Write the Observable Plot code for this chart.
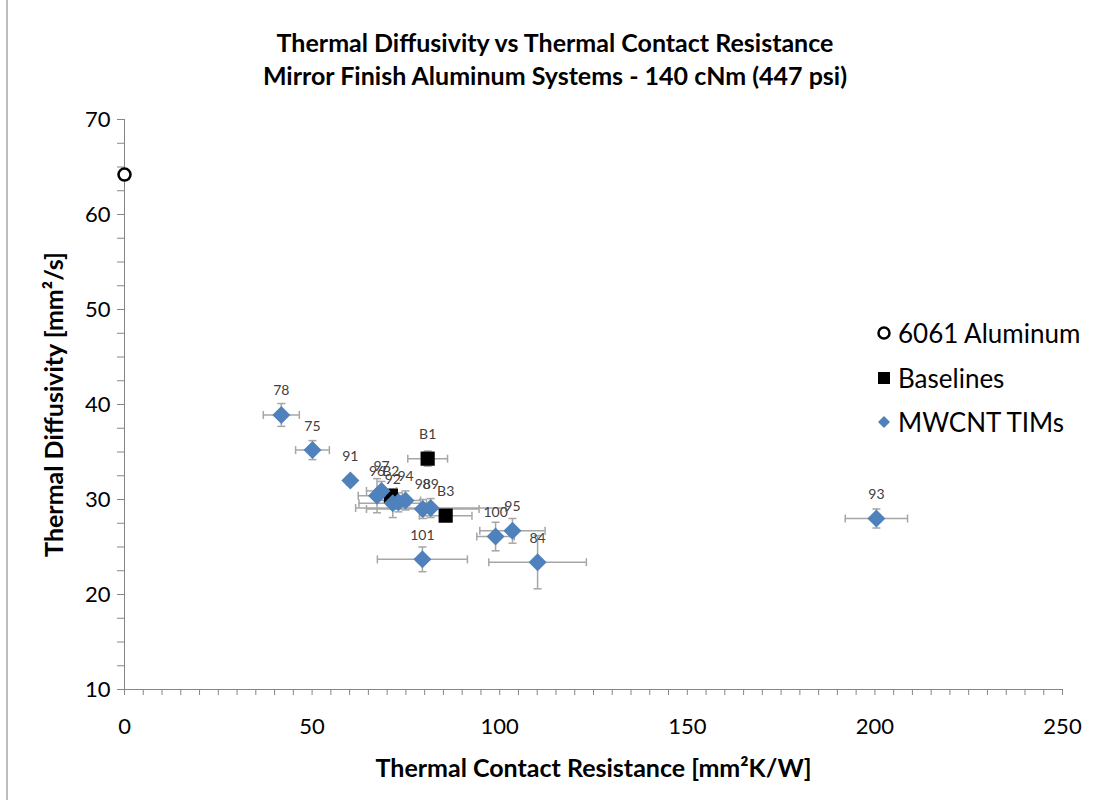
<!DOCTYPE html>
<html>
<head>
<meta charset="utf-8">
<script src="https://cdn.jsdelivr.net/npm/d3@7"></script>
<script src="https://cdn.jsdelivr.net/npm/@observablehq/plot@0.6"></script>
<style>
  html, body { margin: 0; padding: 0; background: #fff; }
  #wrap { position: relative; width: 1097px; height: 800px; overflow: hidden; font-family: Lato, "Open Sans", sans-serif; }
  #frame { position: absolute; left: 6px; top: -2px; width: 1200px; height: 1000px; border-left: 2px solid #bdbdbd; }
  .title { position: absolute; left: 0; width: 1110px; text-align: center; font-weight: bold; font-size: 25px; line-height: 32px; color: #000; }
  .legend { position: absolute; left: 876px; font-size: 26px; line-height: 30px; color: #000; display: flex; align-items: center; }
  .legend svg { margin-right: 6px; }
</style>
</head>
<body>
<div id="wrap">
  <div id="frame"></div>
  <div id="chart"></div>
  <div class="title" style="top:26px">Thermal Diffusivity vs Thermal Contact Resistance</div>
  <div class="title" style="top:59px">Mirror Finish Aluminum Systems - 140 cNm (447 psi)</div>
  <div class="legend" style="top:318px"><svg width="16" height="16"><circle cx="8" cy="8" r="5.5" fill="#fff" stroke="#000" stroke-width="2.5"/></svg>6061 Aluminum</div>
  <div class="legend" style="top:363px"><svg width="16" height="16"><rect x="2" y="2" width="12" height="12" fill="#000"/></svg>Baselines</div>
  <div class="legend" style="top:407px"><svg width="16" height="16"><path d="M8 2 L14 8 L8 14 L2 8 Z" fill="#4f81bd"/></svg>MWCNT TIMs</div>
</div>
<script>
// Reference material
const aluminumX = [0];
const aluminumY = [64.2];

// Baselines
const baseLabels = ["B1", "B2", "B3"];
const baseX  = [80.8, 71.0, 85.6];
const baseY  = [34.3, 30.4, 28.3];
const baseEx = [5.3, 3.0, 7.0];
const baseEy = [0.8, 0.5, 0.5];

// MWCNT TIMs
const timLabels = ["78", "75", "91", "97", "96", "92", "", "94", "98", "89", "101", "100", "95", "84", "93"];
const timX  = [41.8, 50.1, 60.2, 68.5, 67.3, 71.5, 73.0, 74.9, 79.5, 81.6, 79.4, 98.9, 103.4, 110.1, 200.4];
const timY  = [38.9, 35.2, 32.0, 30.9, 30.4, 29.6, 29.7, 29.9, 29.0, 29.1, 23.7, 26.1, 26.7, 23.4, 28.0];
const timEx = [4.8, 4.5, 1.0, 4.0, 5.0, 9.0, 3.0, 4.0, 15.0, 20.0, 12.0, 5.0, 8.7, 13.0, 8.3];
const timEy = [1.2, 1.0, 0.5, 1.0, 1.8, 1.5, 1.0, 1.0, 1.0, 1.0, 1.3, 1.5, 1.3, 2.8, 1.0];

const xTicks = d3.range(0, 251, 5);
const yTicks = d3.range(10, 70.1, 2.5);

const aluminum = aluminumX.map((x, i) => ({x, y: aluminumY[i]}));
const baselines = baseLabels.map((label, i) => ({label, x: baseX[i], y: baseY[i], ex: baseEx[i], ey: baseEy[i]}));
const tims = timLabels.map((label, i) => ({label, x: timX[i], y: timY[i], ex: timEx[i], ey: timEy[i]}));
const withErr = [...tims, ...baselines];

const capV = {draw(ctx, size) { const r = Math.sqrt(size / Math.PI); ctx.moveTo(0, -r); ctx.lineTo(0, r); }};
const capH = {draw(ctx, size) { const r = Math.sqrt(size / Math.PI); ctx.moveTo(-r, 0); ctx.lineTo(r, 0); }};
const diamond = {draw(ctx, size) { const r = Math.sqrt(size / Math.PI); ctx.moveTo(0, -r); ctx.lineTo(r, 0); ctx.lineTo(0, r); ctx.lineTo(-r, 0); ctx.closePath(); }};

const errColor = "#a6a6a6";
const axisColor = "#868686";

const plot = Plot.plot({
  width: 1097,
  height: 800,
  marginLeft: 124,
  marginRight: 35,
  marginTop: 119,
  marginBottom: 111,
  style: {fontFamily: "Lato, 'Open Sans', sans-serif", fontSize: "22px", color: "#000", background: "transparent", overflow: "visible"},
  x: {domain: [0, 250]},
  y: {domain: [10, 70]},
  marks: [
    Plot.axisX({ticks: xTicks, tickFormat: d => d % 50 === 0 ? d : "", tickSize: 6, tickPadding: 23, stroke: axisColor, fontSize: 22, fill: "#000", label: null}),
    Plot.axisY({ticks: yTicks, tickFormat: d => d % 10 === 0 ? d : "", tickSize: 7, tickPadding: 7, stroke: axisColor, fontSize: 22, fill: "#000", label: null}),
    Plot.ruleY([10], {stroke: axisColor}),
    Plot.ruleX([0], {stroke: axisColor}),
    Plot.text(["Thermal Contact Resistance [mm²K/W]"], {frameAnchor: "bottom", lineAnchor: "middle", dy: 79, fontWeight: "bold", fontSize: 25, fill: "#000"}),
    Plot.text(["Thermal Diffusivity [mm²/s]"], {frameAnchor: "left", textAnchor: "middle", dx: -70, rotate: -90, fontWeight: "bold", fontSize: 25, fill: "#000"}),
    // error bars
    Plot.ruleY(withErr, {y: "y", x1: d => d.x - d.ex, x2: d => d.x + d.ex, stroke: errColor, strokeWidth: 1.5}),
    Plot.ruleX(withErr, {x: "x", y1: d => d.y - d.ey, y2: d => d.y + d.ey, stroke: errColor, strokeWidth: 1.5}),
    Plot.dot(withErr, {x: d => d.x - d.ex, y: "y", symbol: capV, r: 4, stroke: errColor, strokeWidth: 1.5}),
    Plot.dot(withErr, {x: d => d.x + d.ex, y: "y", symbol: capV, r: 4, stroke: errColor, strokeWidth: 1.5}),
    Plot.dot(withErr, {x: "x", y: d => d.y - d.ey, symbol: capH, r: 4, stroke: errColor, strokeWidth: 1.5}),
    Plot.dot(withErr, {x: "x", y: d => d.y + d.ey, symbol: capH, r: 4, stroke: errColor, strokeWidth: 1.5}),
    // markers
    Plot.dot(baselines, {x: "x", y: "y", symbol: "square", r: 8, fill: "#000"}),
    Plot.dot(tims, {x: "x", y: "y", symbol: diamond, r: 9, fill: "#4f81bd"}),
    Plot.dot(aluminum, {x: "x", y: "y", r: 6, fill: "#fff", stroke: "#000", strokeWidth: 2.5}),
    // data labels
    Plot.text([...tims, ...baselines], {x: "x", y: "y", text: "label", dy: -24, fontSize: 14, fill: "#404040"})
  ]
});
document.getElementById("chart").appendChild(plot);
</script>
</body>
</html>
